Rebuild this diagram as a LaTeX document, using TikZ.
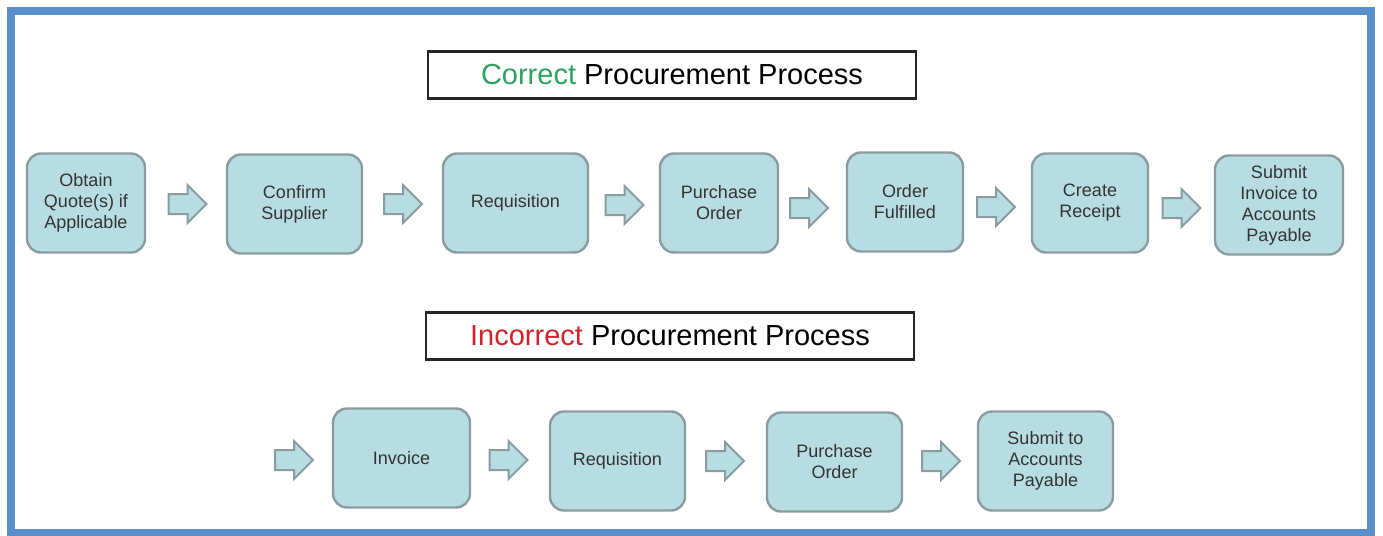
\documentclass[tikz,border=0pt]{standalone}
\usepackage{fontspec}
\setmainfont{Liberation Sans}
\usetikzlibrary{shapes.arrows}
\definecolor{frameblue}{HTML}{5B8FCB}
\definecolor{boxfill}{HTML}{B7DDE2}
\definecolor{boxline}{HTML}{8A9C9F}
\definecolor{goodgreen}{HTML}{2EA35F}
\definecolor{badred}{HTML}{D2232A}

\begin{document}
\begin{tikzpicture}[x=0.5pt, y=-0.5pt,
  stage/.style={draw=boxline, fill=boxfill, line width=1.2pt, rounded corners=7pt, align=center,
    text=black!80, font=\fontsize{9}{10.5}\selectfont, inner sep=0pt, minimum height=49.5pt},
  blockarrow/.style={single arrow, draw=boxline, fill=boxfill, line width=1pt, inner xsep=0pt,
    inner ysep=4.5pt, single arrow head extend=4.5pt, minimum height=19pt},
  heading/.style={draw=black!85, line width=1.2pt, minimum width=244pt, minimum height=23.5pt,
    font=\fontsize{14.5}{16}\selectfont}]
  \useasboundingbox (0,0) rectangle (1383,536);
  \draw[frameblue, line width=4pt] (11,11) rectangle (1371,533);

  % correct process
  \node[heading] (good) at (672,75) {\textcolor{goodgreen}{Correct} Procurement Process};
  \node[stage, minimum width=59pt]   (quote)   at (86,203)    {Obtain\\Quote(s) if\\Applicable};
  \node[stage, minimum width=67.5pt] (confirm) at (294.5,204) {Confirm\\Supplier};
  \node[stage, minimum width=72.5pt] (req)     at (515.5,203) {Requisition};
  \node[stage, minimum width=59pt]   (po)      at (719,203)   {Purchase\\Order};
  \node[stage, minimum width=58pt]   (filled)  at (905,202)   {Order\\Fulfilled};
  \node[stage, minimum width=58pt]   (receipt) at (1090,203)  {Create\\Receipt};
  \node[stage, minimum width=64pt]   (submit)  at (1279,205)  {Submit\\Invoice to\\Accounts\\Payable};
  \foreach \x/\y [count=\i] in {182.5/204, 398/204, 619.5/205, 804/208, 991/207, 1176.5/208}
    \node[blockarrow] (step\i) at (\x,\y) {};

  % incorrect process
  \node[heading] (bad) at (670,336) {\textcolor{badred}{Incorrect} Procurement Process};
  \node[stage, minimum width=68.5pt] (inv)     at (401.5,458) {Invoice};
  \node[stage, minimum width=67.5pt] (badreq)  at (617.5,461) {Requisition};
  \node[stage, minimum width=67.5pt] (badpo)   at (834.5,462) {Purchase\\Order};
  \node[stage, minimum width=67.5pt] (badsub)  at (1045.5,461) {Submit to\\Accounts\\Payable};
  \foreach \x/\y [count=\i] in {289/460, 503.5/460, 720/461, 936/461}
    \node[blockarrow] (badstep\i) at (\x,\y) {};
\end{tikzpicture}
\end{document}
